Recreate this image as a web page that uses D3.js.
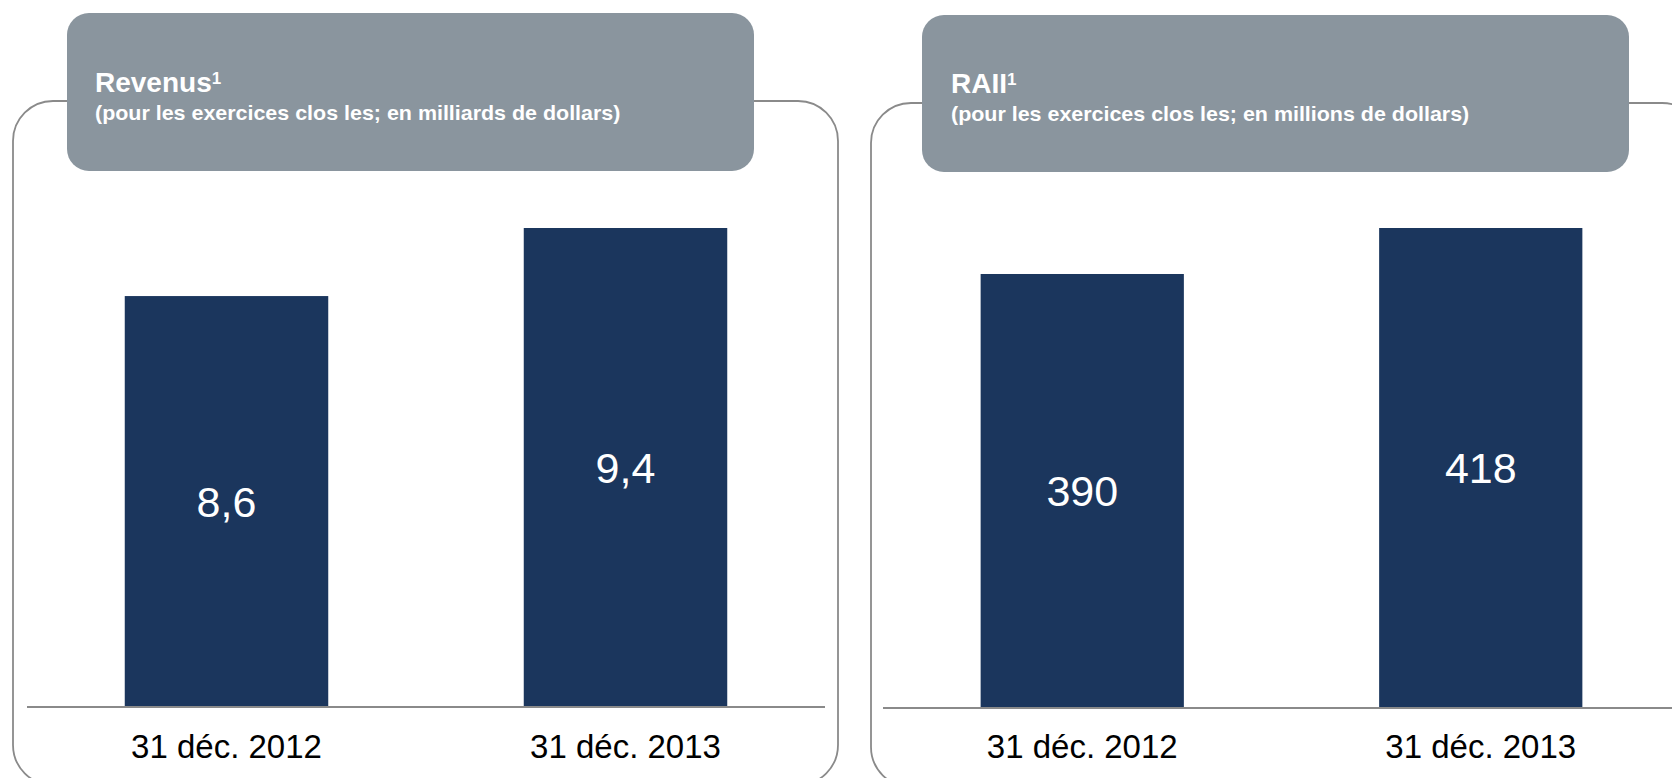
<!DOCTYPE html>
<html>
<head>
<meta charset="utf-8">
<script src="https://cdn.jsdelivr.net/npm/d3@7"></script>
<style>
  body { margin: 0; background: #fff; }
  svg { display: block; font-family: "Liberation Sans", Arial, sans-serif; }
</style>
</head>
<body>
<svg width="1672" height="778"></svg>
<script>
// data
var categories = ["31 déc. 2012", "31 déc. 2013"];
var revenus = [8.6, 9.4];
var raii = [390, 418];
var revenusLabels = ["8,6", "9,4"];
var raiiLabels = ["390", "418"];

var svg = d3.select("svg");

var navy = "#1b365d",
    headGrey = "#8a959e",
    lineGrey = "#8a8a8a";

var panels = [
  {
    title: "Revenus", sub: "(pour les exercices clos les; en milliards de dollars)",
    values: revenus, labels: revenusLabels,
    frame: {x: 13, y: 101, w: 825, h: 684},
    head: {x: 67, y: 13, w: 687, h: 158},
    axisX: [27, 825], base: 707, top: 228, lo: 3.77,
    textX: 95, titleY: 92, subY: 120
  },
  {
    title: "RAII", sub: "(pour les exercices clos les; en millions de dollars)",
    values: raii, labels: raiiLabels,
    frame: {x: 871, y: 103, w: 831, h: 684},
    head: {x: 922, y: 15, w: 707, h: 157},
    axisX: [883, 1680], base: 708, top: 228, lo: 125.8,
    textX: 951, titleY: 93, subY: 121
  }
];

panels.forEach(function(p) {
  var g = svg.append("g");

  // outer rounded frame (runs off the bottom of the picture)
  g.append("rect")
      .attr("x", p.frame.x).attr("y", p.frame.y)
      .attr("width", p.frame.w).attr("height", p.frame.h)
      .attr("rx", 40)
      .attr("fill", "none")
      .attr("stroke", lineGrey)
      .attr("stroke-width", 1.8);

  // grey header
  g.append("rect")
      .attr("x", p.head.x).attr("y", p.head.y)
      .attr("width", p.head.w).attr("height", p.head.h)
      .attr("rx", 22)
      .attr("fill", headGrey);

  var title = g.append("text")
      .attr("x", p.textX).attr("y", p.titleY)
      .attr("fill", "#fff")
      .style("font-size", "28px")
      .style("font-weight", "bold")
      .text(p.title);
  title.append("tspan")
      .attr("dy", "-0.5em")
      .style("font-size", "17px")
      .text("1");

  g.append("text")
      .attr("transform", "translate(" + p.textX + "," + p.subY + ") scale(1.1,1)")
      .attr("fill", "#fff")
      .style("font-size", "19.5px")
      .style("font-weight", "bold")
      .text(p.sub);

  var x = d3.scaleBand()
      .domain(categories)
      .range(p.axisX)
      .paddingInner(0.49)
      .paddingOuter(0.245);

  var y = d3.scaleLinear()
      .domain([p.lo, d3.max(p.values)])
      .range([p.base, p.top]);

  var rows = categories.map(function(c, i) {
    return {cat: c, value: p.values[i], label: p.labels[i]};
  });

  g.selectAll(".bar")
    .data(rows)
    .enter().append("rect")
      .attr("class", "bar")
      .attr("x", function(d) { return x(d.cat); })
      .attr("y", function(d) { return y(d.value); })
      .attr("width", x.bandwidth())
      .attr("height", function(d) { return p.base - y(d.value); })
      .attr("fill", navy);

  g.selectAll(".val")
    .data(rows)
    .enter().append("text")
      .attr("class", "val")
      .attr("x", function(d) { return x(d.cat) + x.bandwidth() / 2; })
      .attr("y", function(d) { return (y(d.value) + p.base) / 2; })
      .attr("dy", "0.36em")
      .attr("text-anchor", "middle")
      .attr("fill", "#fff")
      .style("font-size", "43px")
      .text(function(d) { return d.label; });

  // baseline
  g.append("line")
      .attr("x1", p.axisX[0]).attr("x2", p.axisX[1])
      .attr("y1", p.base).attr("y2", p.base)
      .attr("stroke", lineGrey)
      .attr("stroke-width", 2.2);

  g.selectAll(".cat")
    .data(rows)
    .enter().append("text")
      .attr("class", "cat")
      .attr("x", function(d) { return x(d.cat) + x.bandwidth() / 2; })
      .attr("y", 758)
      .attr("text-anchor", "middle")
      .attr("fill", "#000")
      .style("font-size", "33px")
      .text(function(d) { return d.cat; });
});
</script>
</body>
</html>
